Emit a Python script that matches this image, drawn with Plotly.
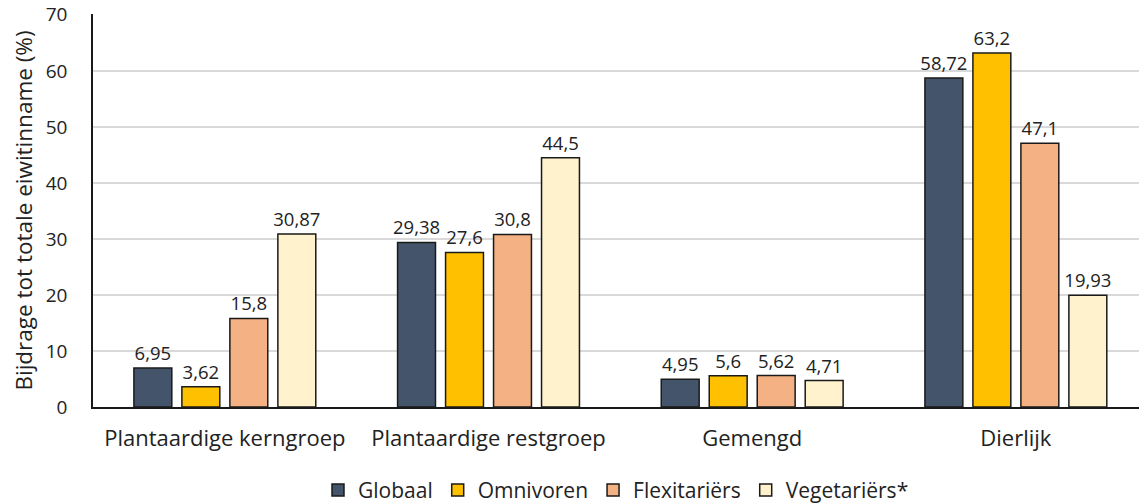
import plotly.graph_objects as go

categories = ["Plantaardige kerngroep", "Plantaardige restgroep", "Gemengd", "Dierlijk"]
globaal = [6.95, 29.38, 4.95, 58.72]
omnivoren = [3.62, 27.6, 5.6, 63.2]
flexitariers = [15.8, 30.8, 5.62, 47.1]
vegetariers = [30.87, 44.5, 4.71, 19.93]

series = [
    ("Globaal", globaal, "#44546A"),
    ("Omnivoren", omnivoren, "#FFC000"),
    ("Flexitariërs", flexitariers, "#F4B183"),
    ("Vegetariërs*", vegetariers, "#FFF2CC"),
]

font_fam = "Open Sans, Noto Sans, sans-serif"

fig = go.Figure()
for name, vals, col in series:
    fig.add_trace(go.Bar(
        x=categories,
        y=vals,
        name=name,
        marker=dict(color=col, line=dict(color="#1a1a1a", width=1.5)),
        text=[str(v).replace(".", ",") for v in vals],
        textposition="outside",
        constraintext="none",
        textfont=dict(size=18.5, color="#222222", family=font_fam),
        cliponaxis=False,
    ))

fig.update_layout(
    barmode="group",
    bargap=0.272,
    bargroupgap=0.21,
    width=1139,
    height=503,
    margin=dict(l=93, r=0, t=14, b=96, autoexpand=False),
    paper_bgcolor="white",
    plot_bgcolor="white",
    font=dict(family=font_fam, color="#222222", size=18),
    legend=dict(
        orientation="h",
        x=0.5, xanchor="center",
        y=-0.212, yanchor="middle",
        font=dict(size=21),
        itemwidth=30,
        traceorder="normal",
    ),
)

fig.update_xaxes(
    range=[-0.5, 3.467],
    showline=True,
    linecolor="#1a1a1a",
    linewidth=1.5,
    ticks="",
    tickfont=dict(size=22),
    ticklabelstandoff=11,
)
fig.update_yaxes(
    range=[0, 70.15],  # a hair above 70 so the top gridline is drawn
    tick0=0,
    dtick=10,
    showgrid=True,
    gridcolor="#d9d9d9",
    gridwidth=1.5,
    showline=True,
    linecolor="#1a1a1a",
    linewidth=1.5,
    ticks="",
    tickfont=dict(size=19),
    ticklabelstandoff=20,
    automargin=False,
    title=dict(text="Bijdrage tot totale eiwitinname (%)", font=dict(size=22.5), standoff=7),
    zeroline=False,
)

# drop the default 8px body margin so the figure fills the window
fig.write_html(
    "out.html",
    config={"displayModeBar": False},
    post_script="document.body.style.margin='0';",
)
